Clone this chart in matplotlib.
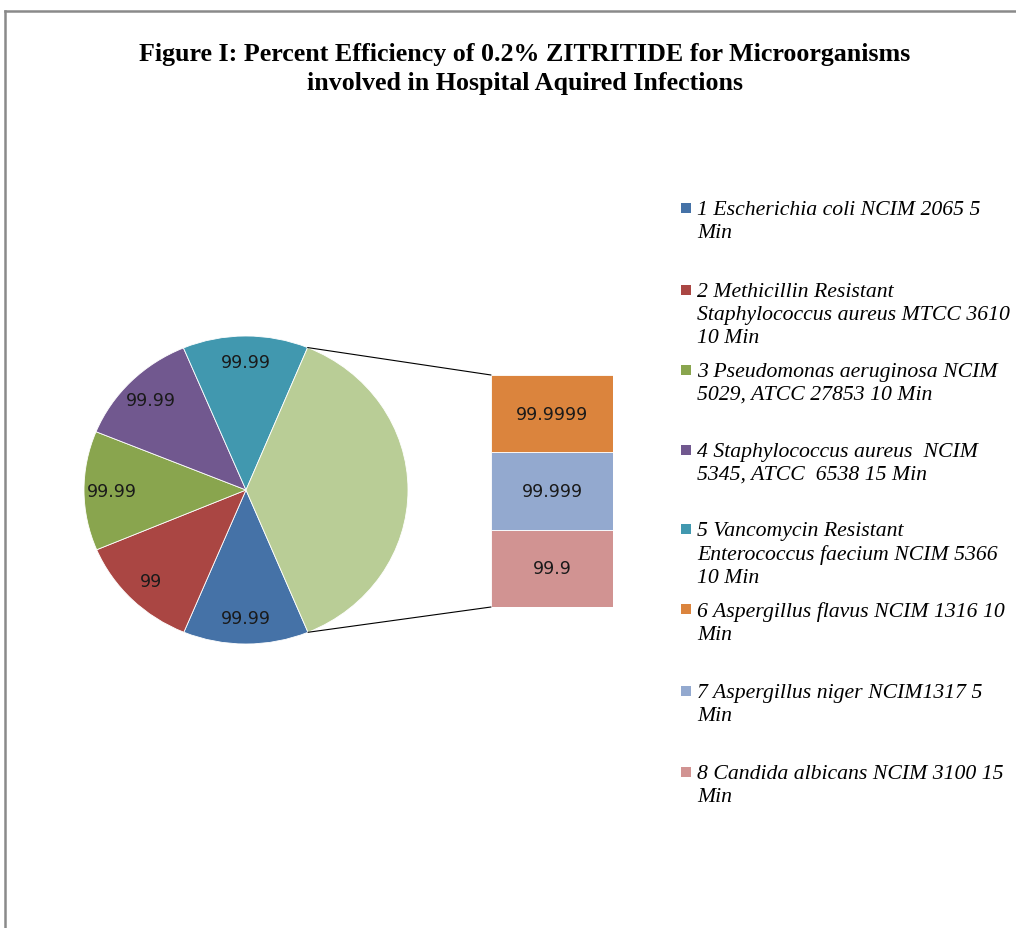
import matplotlib.pyplot as plt
from matplotlib.patches import ConnectionPatch, Rectangle
from matplotlib.lines import Line2D
import numpy as np

# data
pie_values = [99.99, 99, 99.99, 99.99, 99.99]
pie_labels = ["99.99", "99", "99.99", "99.99", "99.99"]
pie_colors = ["#4572A7", "#AA4643", "#89A54E", "#71588F", "#4198AF"]
other_color = "#B9CD96"

bar_values = [99.9, 99.999, 99.9999]          # bottom -> top
bar_labels = ["99.9", "99.999", "99.9999"]
bar_colors = ["#D19392", "#93A9CF", "#DB843D"]

legend_labels = [
    "1 Escherichia coli NCIM 2065 5\nMin",
    "2 Methicillin Resistant\nStaphylococcus aureus MTCC 3610\n10 Min",
    "3 Pseudomonas aeruginosa NCIM\n5029, ATCC 27853 10 Min",
    "4 Staphylococcus aureus  NCIM\n5345, ATCC  6538 15 Min",
    "5 Vancomycin Resistant\nEnterococcus faecium NCIM 5366\n10 Min",
    "6 Aspergillus flavus NCIM 1316 10\nMin",
    "7 Aspergillus niger NCIM1317 5\nMin",
    "8 Candida albicans NCIM 3100 15\nMin",
]
legend_colors = pie_colors + bar_colors[::-1]

W, H = 1016, 929
fig = plt.figure(figsize=(W / 100, H / 100), dpi=100)


def box(x, y, w, h):
    # pixel box (top-left origin) -> figure fraction
    return [x / W, 1 - (y + h) / H, w / W, h / H]


# pie with the "other" slice
ax_pie = fig.add_axes(box(84, 337, 324, 308))
vals = pie_values + [sum(bar_values)]
wedges, _ = ax_pie.pie(vals, colors=pie_colors + [other_color], startangle=-67.5,
                       counterclock=False, radius=1,
                       wedgeprops=dict(edgecolor="white", linewidth=0.6))
ax_pie.set_aspect("auto")
ax_pie.set_xlim(-1, 1)
ax_pie.set_ylim(-1, 1)
ax_pie.axis("off")
for w, lab in zip(wedges[:-1], pie_labels):
    ang = np.deg2rad((w.theta1 + w.theta2) / 2)
    ax_pie.text(0.83 * np.cos(ang), 0.83 * np.sin(ang), lab, ha="center", va="center",
                fontsize=12.5, color="#1a1a1a", family="DejaVu Sans")

# stacked bar
ax_bar = fig.add_axes(box(491, 376, 122, 232))
bottom = 0
for v, lab, c in zip(bar_values, bar_labels, bar_colors):
    b = ax_bar.bar(0, v, bottom=bottom, width=1, color=c, edgecolor="white", linewidth=0.6)
    ax_bar.bar_label(b, labels=[lab], label_type="center", fontsize=12.5,
                     color="#1a1a1a", family="DejaVu Sans")
    bottom += v
ax_bar.set_xlim(-0.5, 0.5)
ax_bar.set_ylim(0, bottom)
ax_bar.axis("off")

# connector lines
other = wedges[-1]
for ang, yb in [(other.theta1, 0), (other.theta2, bottom)]:
    a = np.deg2rad(ang)
    con = ConnectionPatch(xyA=(-0.5, yb), coordsA=ax_bar.transData,
                          xyB=(np.cos(a), np.sin(a)), coordsB=ax_pie.transData,
                          color="black", linewidth=0.8)
    fig.add_artist(con)

# title
fig.text(525 / W, 1 - 69 / H,
         "Figure I: Percent Efficiency of 0.2% ZITRITIDE for Microorganisms\ninvolved in Hospital Aquired Infections",
         ha="center", va="center", fontsize=18.7, fontweight="bold",
         family="Liberation Serif", linespacing=1.3)

# legend
first_y = [209, 291, 371, 451, 530, 610, 692, 773]
for y, lab, c in zip(first_y, legend_labels, legend_colors):
    fig.patches.append(Rectangle((681 / W, 1 - (y + 5) / H), 10 / W, 10 / H,
                                 transform=fig.transFigure, facecolor=c, edgecolor="none"))
    fig.text(697 / W, 1 - (y - 8) / H, lab, ha="left", va="top", fontsize=15.7,
             style="italic", family="Liberation Serif", linespacing=1.28)

# outer border (top and left)
fig.add_artist(Line2D([5 / W, 1], [1 - 12 / H, 1 - 12 / H], transform=fig.transFigure,
                      color="#8a8a8a", linewidth=1.8))
fig.add_artist(Line2D([5 / W, 5 / W], [0, 1 - 12 / H], transform=fig.transFigure,
                      color="#8a8a8a", linewidth=1.8))

fig.savefig("out.png", dpi=100)
